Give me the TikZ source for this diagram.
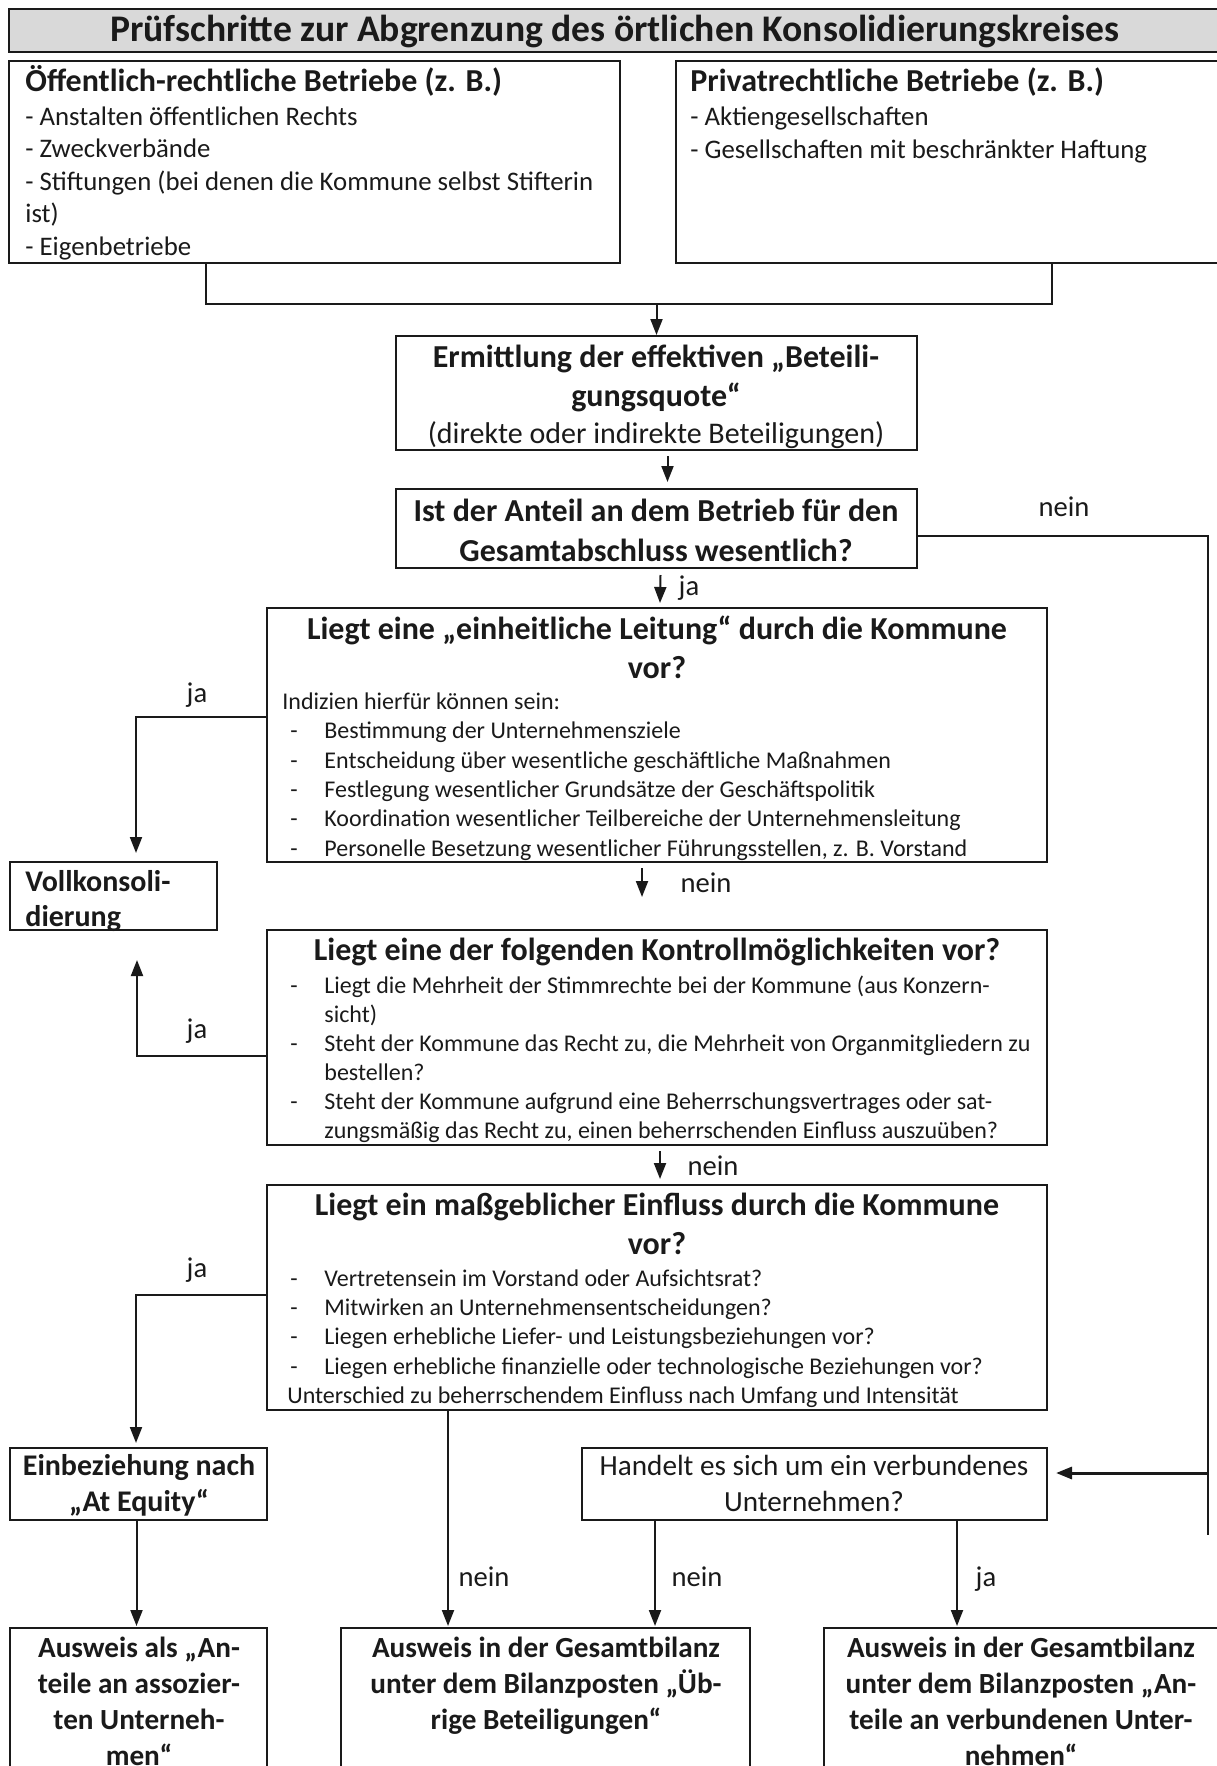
\documentclass[tikz,border=0pt]{standalone}
\usepackage{fontspec}
\setmainfont{Carlito}
\usetikzlibrary{arrows.meta,calc,fit}
\definecolor{kgray}{HTML}{D9D9D9}
\definecolor{kink}{HTML}{1A1A1A}

\newcommand{\dashitem}[1]{\makebox[17pt][l]{-}#1}
\newcommand{\contline}[1]{\hspace*{17pt}#1}

\begin{document}
\begin{tikzpicture}[
  x=0.5pt, y=-0.5pt,
  text=kink,
  >={Triangle[length=8pt,width=6pt]},
  box/.style={draw=kink, line width=1pt, inner sep=0pt},
  ttl/.style={font=\fontsize{18.8}{22}\selectfont\bfseries, anchor=base, inner sep=0pt},
  hd/.style={font=\fontsize{16}{19.5}\selectfont\bfseries, anchor=base, inner sep=0pt, align=center},
  hdl/.style={hd, anchor=base west, align=left},
  sub/.style={font=\fontsize{14.6}{18}\selectfont, anchor=base, inner sep=0pt, align=center},
  subb/.style={sub, font=\fontsize{14.6}{18}\selectfont\bfseries},
  body/.style={font=\fontsize{13.4}{16.25}\selectfont, anchor=base west, inner sep=0pt, align=left},
  items/.style={font=\fontsize{12}{14.65}\selectfont, anchor=base west, inner sep=0pt, align=left},
  lbl/.style={font=\fontsize{14.3}{16}\selectfont, anchor=base, inner sep=0pt},
  edge/.style={draw=kink, line width=1pt},
]
\useasboundingbox (0,0) rectangle (1216,1766);

% ---- boxes ----
\node[box, fill=kgray, fit={(9,9) (1221,52)}] (title) {};
\node[box, fit={(9,61) (620,263)}] (oeff) {};
\node[box, fit={(676,61) (1219,263)}] (priv) {};
\node[box, fit={(396,336) (917,450)}] (erm) {};
\node[box, fit={(396,489) (917,568)}] (ist) {};
\node[box, fit={(267,608) (1047,862)}] (einh) {};
\node[box, fit={(10,862) (217,930)}] (voll) {};
\node[box, fit={(267,930) (1047,1145)}] (kontr) {};
\node[box, fit={(267,1185) (1047,1410)}] (mass) {};
\node[box, fit={(10,1448) (267,1520)}] (eqty) {};
\node[box, fit={(582,1448) (1047,1520)}] (hand) {};
\node[box, fit={(10,1628) (267,1800)}] (asso) {};
\node[box, fit={(341,1628) (750,1800)}] (uebr) {};
\node[box, fit={(824,1628) (1219,1800)}] (verb) {};

% ---- texts (base = baseline of the last line) ----
\node[ttl] at (615,42) {Prüfschritte zur Abgrenzung des örtlichen Konsolidierungskreises};

\node[hdl] at (25,92) {Öffentlich-rechtliche Betriebe (z. B.)};
\node[body] at (25,255) {- Anstalten öffentlichen Rechts\\- Zweckverbände\\
  - Stiftungen (bei denen die Kommune selbst Stifterin\\ist)\\- Eigenbetriebe};
\node[hdl] at (690,92) {Privatrechtliche Betriebe (z. B.)};
\node[body] at (690,158) {- Aktiengesellschaften\\- Gesellschaften mit beschränkter Haftung};

\node[hd] at (656,406) {Ermittlung der effektiven „Beteili-\\gungsquote“};
\node[sub, font=\fontsize{15}{19}\selectfont] at (656,443) {(direkte oder indirekte Beteiligungen)};

\node[hd, font=\fontsize{16}{20}\selectfont\bfseries] at (656,561) {Ist der Anteil an dem Betrieb für den\\Gesamtabschluss wesentlich?};

\node[hd] at (657,678) {Liegt eine „einheitliche Leitung“ durch die Kommune\\vor?};
\node[items] at (282,709) {Indizien hierfür können sein:};
\node[items] at (290,856) {\dashitem{Bestimmung der Unternehmensziele}\\
  \dashitem{Entscheidung über wesentliche geschäftliche Maßnahmen}\\
  \dashitem{Festlegung wesentlicher Grundsätze der Geschäftspolitik}\\
  \dashitem{Koordination wesentlicher Teilbereiche der Unternehmensleitung}\\
  \dashitem{Personelle Besetzung wesentlicher Führungsstellen, z. B. Vorstand}};

\node[hdl, font=\fontsize{15}{17.5}\selectfont\bfseries] at (25,926) {Vollkonsoli-\\dierung};

\node[hd] at (657,960) {Liegt eine der folgenden Kontrollmöglichkeiten vor?};
\node[items, font=\fontsize{12}{14.5}\selectfont] at (290,1138) {\dashitem{Liegt die Mehrheit der Stimmrechte bei der Kommune (aus Konzern-}\\
  \contline{sicht)}\\
  \dashitem{Steht der Kommune das Recht zu, die Mehrheit von Organmitgliedern zu}\\
  \contline{bestellen?}\\
  \dashitem{Steht der Kommune aufgrund eine Beherrschungsvertrages oder sat-}\\
  \contline{zungsmäßig das Recht zu, einen beherrschenden Einfluss auszuüben?}};

\node[hd] at (657,1254) {Liegt ein maßgeblicher Einfluss durch die Kommune\\vor?};
\node[items] at (290,1374) {\dashitem{Vertretensein im Vorstand oder Aufsichtsrat?}\\
  \dashitem{Mitwirken an Unternehmensentscheidungen?}\\
  \dashitem{Liegen erhebliche Liefer- und Leistungsbeziehungen vor?}\\
  \dashitem{Liegen erhebliche finanzielle oder technologische Beziehungen vor?}};
\node[items] at (287,1403) {Unterschied zu beherrschendem Einfluss nach Umfang und Intensität};

\node[subb, font=\fontsize{15}{18}\selectfont\bfseries] at (139,1511) {Einbeziehung nach\\„At Equity“};
\node[sub] at (814,1511) {Handelt es sich um ein verbundenes\\Unternehmen?};
\node[subb] at (139,1765) {Ausweis als „An-\\teile an assozier-\\ten Unterneh-\\men“};
\node[subb] at (546,1729) {Ausweis in der Gesamtbilanz\\unter dem Bilanzposten „Üb-\\rige Beteiligungen“};
\node[subb] at (1021,1765) {Ausweis in der Gesamtbilanz\\unter dem Bilanzposten „An-\\teile an verbundenen Unter-\\nehmen“};

% ---- labels ----
\node[lbl] (l1) at (1064,516) {nein};
\node[lbl] (l2) at (689,595) {ja};
\node[lbl] (l3) at (197,702) {ja};
\node[lbl] (l4) at (706,892) {nein};
\node[lbl] (l5) at (197,1038) {ja};
\node[lbl] (l6) at (713,1175) {nein};
\node[lbl] (l7) at (197,1277) {ja};
\node[lbl] (l8) at (484,1586) {nein};
\node[lbl] (l9) at (697,1586) {nein};
\node[lbl] (l10) at (986,1586) {ja};

% ---- merge of the two groups ----
\coordinate (mL) at (206,304);
\coordinate (mR) at (1052,304);
\draw[edge] (oeff.south -| mL) -- (mL) -- (mR) -- (priv.south -| mR);
\draw[edge,->] (erm.north |- mL) -- (erm.north);

% ---- main column ----
\draw[edge,->] ($(erm.south)+(11,5)$) -- ($(ist.north)+(11,-6)$);
\draw[edge,->] ($(ist.south)+(4,6)$) -- ($(einh.north)+(3,-4)$);
\draw[edge,->] ($(einh.south)+(-15,5)$) -- ($(kontr.north)+(-15,-32)$);
\draw[edge,->] ($(kontr.south)+(3,5)$) -- ($(mass.north)+(3,-5)$);

% ---- ja branches to the left ----
\coordinate (jaA) at (136,717);
\coordinate (jaB) at (137,1056);
\coordinate (jaC) at (136,1295);
\draw[edge,->] (einh.west |- jaA) -- (jaA) -- ($(voll.north -| jaA)+(0,-8)$);
\draw[edge,->] (kontr.west |- jaB) -- (jaB) -- ($(voll.south -| jaB)+(0,29)$);
\draw[edge,->] (mass.west |- jaC) -- (jaC) -- ($(eqty.north -| jaC)+(0,-4)$);
\draw[edge,->] ($(eqty.south)+(-2,0)$) -- ($(asso.north)+(-2,-1)$);

% ---- bottom row ----
\coordinate (nA) at (448,1600);
\coordinate (nB) at (655,1600);
\coordinate (jB) at (957,1600);
\draw[edge,->] (mass.south -| nA) -- ($(uebr.north -| nA)+(0,-1)$);
\draw[edge,->] (hand.south -| nB) -- ($(uebr.north -| nB)+(0,-1)$);
\draw[edge,->] (hand.south -| jB) -- ($(verb.north -| jB)+(0,-1)$);

% ---- nein branch on the right ----
\coordinate (rTop) at (1208,536);
\coordinate (rJoin) at (1208,1473);
\coordinate (rEnd) at (1208,1535);
\draw[edge, line width=0.8pt] (ist.east |- rTop) -- (rTop) -- (rEnd);
\draw[edge, line width=1.5pt, ->] (rJoin) -- ($(hand.east |- rJoin)+(8,0)$);

\end{tikzpicture}
\end{document}
